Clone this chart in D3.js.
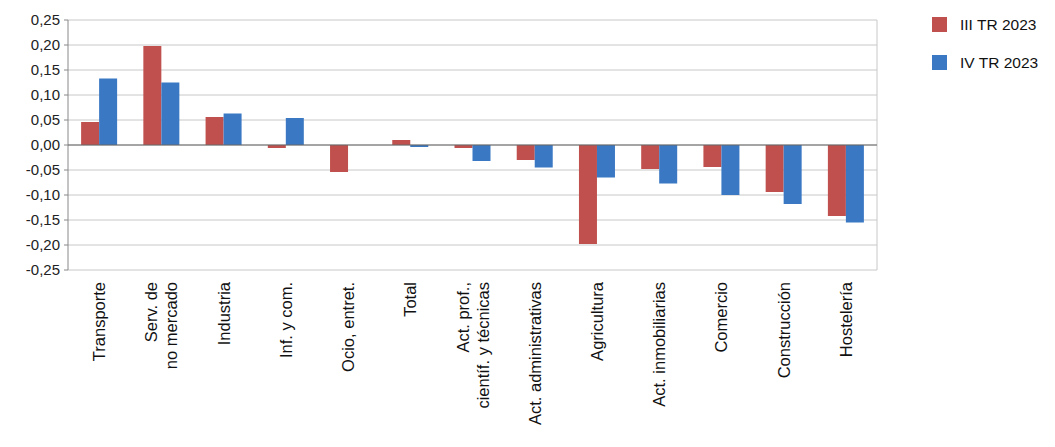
<!DOCTYPE html>
<html><head><meta charset="utf-8">
<script src="https://cdn.jsdelivr.net/npm/d3@7"></script>
<style>body{margin:0;background:#fff}text{font-family:"Liberation Sans",Arial,sans-serif}</style>
</head><body><svg id="c" width="1055" height="447"></svg>
<script>
const categories=[["Transporte"],["Serv. de","no mercado"],["Industria"],["Inf. y com."],["Ocio, entret."],["Total"],["Act. prof.,","científ. y técnicas"],["Act. administrativas"],["Agricultura"],["Act. inmobiliarias"],["Comercio"],["Construcción"],["Hostelería"]];
const seriesNames=["III TR 2023","IV TR 2023"];
const q3=[0.046,0.198,0.056,-0.006,-0.054,0.010,-0.006,-0.030,-0.198,-0.048,-0.044,-0.094,-0.142];
const q4=[0.133,0.125,0.063,0.054,0.000,-0.004,-0.032,-0.045,-0.065,-0.077,-0.100,-0.118,-0.155];
const ticks=[0.25,0.2,0.15,0.1,0.05,0,-0.05,-0.1,-0.15,-0.2,-0.25];
const colors=["#c0504d","#3a78c4"];
const svg=d3.select("#c");
const L=68,R=877,T=20,B=270;
const x=d3.scaleBand().domain(d3.range(categories.length)).range([L,R]);
const y=d3.scaleLinear().domain([-0.25,0.25]).range([B,T]);
const fmt=v=>d3.format(".2f")(v).replace(".",",").replace("−","-");
svg.append("g").selectAll("line").data(ticks).join("line")
 .attr("x1",L).attr("x2",R).attr("y1",d=>y(d)).attr("y2",d=>y(d)).attr("stroke","#c8c8c8");
svg.append("line").attr("x1",L).attr("x2",L).attr("y1",T).attr("y2",B).attr("stroke","#888");
svg.append("line").attr("x1",R).attr("x2",R).attr("y1",T).attr("y2",B).attr("stroke","#c8c8c8");
svg.append("g").selectAll("text").data(ticks).join("text")
 .attr("x",L-8).attr("y",d=>y(d)+5).attr("text-anchor","end").attr("font-size",15).attr("fill","#222").text(fmt);
svg.append("g").selectAll("line").data(ticks).join("line").attr("x1",L-4).attr("x2",L).attr("y1",d=>y(d)).attr("y2",d=>y(d)).attr("stroke","#888");
const bw=18;
[q3,q4].forEach((s,k)=>{
 svg.append("g").selectAll("rect").data(s).join("rect")
  .attr("x",(d,i)=>x(i)+x.bandwidth()/2-bw+k*bw).attr("width",bw)
  .attr("y",d=>y(Math.max(0,d))).attr("height",d=>Math.abs(y(d)-y(0)))
  .attr("fill",colors[k]);
});
svg.append("line").attr("x1",L).attr("x2",R).attr("y1",y(0)).attr("y2",y(0)).attr("stroke","#666");
categories.forEach((c,i)=>{
 const cx=x(i)+x.bandwidth()/2;
 const t=svg.append("text").attr("transform",`translate(${cx},${B+12}) rotate(-90)`).attr("text-anchor","end").attr("font-size",16.5).attr("fill","#111");
 const n=c.length;
 c.forEach((s,j)=>t.append("tspan").attr("x",0).attr("y",((j-(n-1)/2)*20+6)).text(s));
});
seriesNames.forEach((s,k)=>{
 svg.append("rect").attr("x",932).attr("y",17+k*38).attr("width",15).attr("height",15).attr("fill",colors[k]);
 svg.append("text").attr("x",960).attr("y",30+k*38).attr("font-size",15.5).attr("fill","#111").text(s);
});
</script></body></html>
